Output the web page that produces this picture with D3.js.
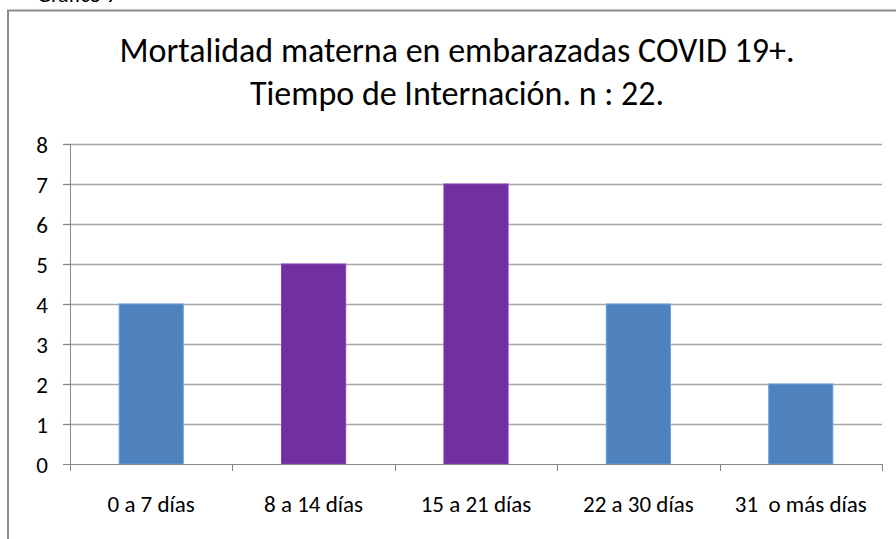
<!DOCTYPE html>
<meta charset="utf-8" />
<head>
  <script src="https://d3js.org/d3.v7.min.js"></script>
  <style>
    body { margin: 0; background: #fff; }
    svg text { font-family: Carlito, Calibri, Lato, sans-serif; fill: #000; }
  </style>
</head>
<body>
  <div id="my_data"></div>
</body>
<script>
  // data
  var categories = ["0 a 7 días", "8 a 14 días", "15 a 21 días", "22 a 30 días", "31  o más días"];
  var values = [4, 5, 7, 4, 2];
  var barColors = ["#4F81BD", "#7030A0", "#7030A0", "#4F81BD", "#4F81BD"];
  var yTicks = [0, 1, 2, 3, 4, 5, 6, 7, 8];
  var titleLines = ["Mortalidad materna en embarazadas COVID 19+.", "Tiempo de Internación. n : 22."];

  var W = 896, H = 539;
  var margin = { top: 144, right: 14, bottom: 75, left: 70 },
    width = W - margin.left - margin.right,
    height = H - margin.top - margin.bottom;

  var root = d3.select("#my_data").append("svg")
    .attr("width", W)
    .attr("height", H);

  // cut-off caption above the frame
  root.append("text")
    .attr("x", 37)
    .attr("y", 2)
    .style("font-size", "22px")
    .text("Gráfico 9");

  // chart frame (runs off the right and bottom edge)
  root.append("rect")
    .attr("x", 8)
    .attr("y", 10.5)
    .attr("width", W + 20)
    .attr("height", H + 20)
    .attr("fill", "#fff")
    .attr("stroke", "#8c8c8c")
    .attr("stroke-width", 2);

  // title
  root.selectAll(".title")
    .data(titleLines)
    .enter()
    .append("text")
    .attr("class", "title")
    .attr("x", 457)
    .attr("y", function (d, i) { return 62 + i * 43; })
    .attr("text-anchor", "middle")
    .style("font-size", "34px")
    .text(function (d) { return d; });

  var svg = root.append("g")
    .attr("transform", "translate(" + margin.left + "," + margin.top + ")");

  var x = d3.scaleBand().domain(categories).range([0, width]).padding(0);
  var y = d3.scaleLinear().domain([0, 8]).range([height, 0]);

  // gridlines
  svg.append("g")
    .selectAll("line")
    .data(yTicks.filter(function (d) { return d > 0; }))
    .enter()
    .append("line")
    .attr("x1", -7)
    .attr("x2", width)
    .attr("y1", function (d) { return Math.round(y(d)) + 0.5; })
    .attr("y2", function (d) { return Math.round(y(d)) + 0.5; })
    .attr("stroke", "#a6a6a6")
    .attr("stroke-width", 1.5);

  // bars
  var barW = x.bandwidth() * 0.395;
  svg.append("g")
    .selectAll("rect")
    .data(values)
    .enter()
    .append("rect")
    .attr("x", function (d, i) { return x(categories[i]) + (x.bandwidth() - barW) / 2; })
    .attr("y", function (d) { return y(d); })
    .attr("width", barW)
    .attr("height", function (d) { return height - y(d); })
    .attr("fill", function (d, i) { return barColors[i]; })
    .attr("stroke", function (d, i) { return d3.color(barColors[i]).brighter(0.6); })
    .attr("stroke-width", 1);

  // y axis
  var yAxis = svg.append("g")
    .call(d3.axisLeft(y).tickValues(yTicks).tickSize(7).tickPadding(15).tickFormat(d3.format("d")));
  yAxis.select(".domain").attr("stroke", "#868686").attr("d", "M0.5," + height + "V0");
  yAxis.selectAll(".tick line").attr("stroke", "#868686");
  yAxis.selectAll(".tick text").style("font-size", "23px").attr("dy", "0.36em");

  // x axis
  var xAxis = svg.append("g")
    .attr("transform", "translate(0," + height + ")");
  xAxis.append("line")
    .attr("x1", -7).attr("x2", width)
    .attr("y1", 0.5).attr("y2", 0.5)
    .attr("stroke", "#868686");
  xAxis.selectAll(".xt")
    .data(d3.range(categories.length + 1))
    .enter()
    .append("line")
    .attr("x1", function (i) { return Math.round(i * x.step()) + 0.5; })
    .attr("x2", function (i) { return Math.round(i * x.step()) + 0.5; })
    .attr("y1", 0)
    .attr("y2", 7)
    .attr("stroke", "#868686");
  xAxis.selectAll(".xl")
    .data(categories)
    .enter()
    .append("text")
    .attr("x", function (d) { return x(d) + x.bandwidth() / 2; })
    .attr("y", 48)
    .attr("text-anchor", "middle")
    .style("font-size", "23px")
    .style("white-space", "pre")
    .text(function (d) { return d; });
</script>
